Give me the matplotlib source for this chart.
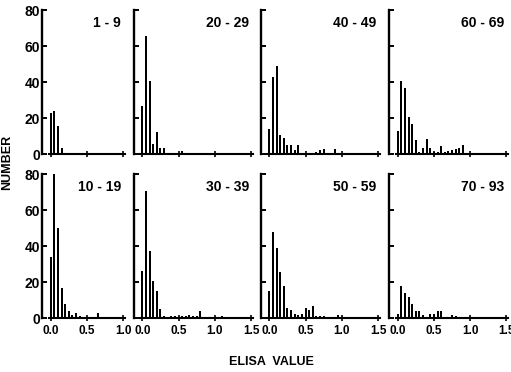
import numpy as np
import matplotlib
matplotlib.use("Agg")
import matplotlib.pyplot as plt

plt.rcParams['font.family'] = ['Liberation Sans', 'DejaVu Sans']
plt.rcParams['font.weight'] = 'bold'

# ELISA value bins (width 0.05)
bin_width = 0.05
elisa_bins = np.round(np.arange(30) * bin_width, 2)

# counts per age group
age_labels = ["1 - 9", "20 - 29", "40 - 49", "60 - 69",
              "10 - 19", "30 - 39", "50 - 59", "70 - 93"]

counts_1_9 = [23, 24, 16, 3.5, 1, 0, 0, 0, 0, 0, 0, 0, 0, 0.7, 0, 1, 0, 0, 0.7, 0]
counts_20_29 = [27, 66, 41, 5.5, 12.5, 3.7, 3.7, 1, 0, 1, 0, 2, 0, 1, 1,
                0, 0, 0, 0, 0, 0, 0, 0, 0, 0, 0, 1, 0, 0, 0]
counts_40_49 = [14, 43, 49, 11, 9, 5, 5, 2.5, 5, 1, 0, 0.5, 0.5, 1.5, 2.5,
                3, 0, 0.5, 3, 0.5, 0.5, 0, 0.5, 0, 1, 0, 0.5, 0, 1, 0]
counts_60_69 = [13, 41, 37, 21, 17, 8, 1.5, 3.5, 8.5, 3.7, 1.5, 1.5, 4.5, 1.5, 2,
                2.5, 3, 3.3, 5.2, 0.5, 0, 0.5, 0, 0, 0, 0.5, 0, 0.5, 0, 0.5]
counts_10_19 = [34, 80, 50, 17, 8, 4, 2, 3, 1.5, 0.5, 0, 0, 0, 3, 0, 0, 1, 0, 0, 0]
counts_30_39 = [26.5, 71, 37.5, 20.5, 15, 5, 1.5, 1, 1.5, 1.5, 1, 1.5, 1.5, 2, 1.5,
                1.5, 4, 0, 0.5, 0, 0, 0.5, 1.5, 0, 0.5, 0, 0, 0, 0, 0]
counts_50_59 = [15, 48, 39, 26, 18, 6, 4.6, 2.4, 2, 2.4, 6, 4.6, 7, 1.5, 1.5,
                1.5, 0.5, 0, 0, 2, 0, 1, 0, 0, 0.5, 0, 0, 0, 0, 0.5]
counts_70_93 = [2.4, 18, 14, 12, 8, 4, 4, 2, 1, 2.5, 2.5, 4, 4, 1, 0.5,
                2, 1.2, 0.5, 1, 0, 0.5, 0.5, 0, 0, 0.5, 0, 0.5, 0, 0, 0]

panel_counts = [counts_1_9, counts_20_29, counts_40_49, counts_60_69,
                counts_10_19, counts_30_39, counts_50_59, counts_70_93]

y_ticks = [0, 20, 40, 60, 80]
x_ticks_first = [0.0, 0.5, 1.0]
x_ticks_other = [0.0, 0.5, 1.0, 1.5]
x_tick_labels_first = ["0.0", "0.5", "1.0"]
x_tick_labels_other = ["0.0", "0.5", "1.0", "1.5"]

W, H = 511, 372
px_per_unit = 72.5
col_zero_px = [50.7, 142.3, 269.3, 397.7]
row_base_px = [154.3, 318.3]
row_height_px = 144.0


def draw_panel(fig, row, col, counts, label):
    xmax = 1.02 if col == 0 else 1.52
    xmin = -0.03
    left = col_zero_px[col] + xmin * px_per_unit
    width = (xmax - xmin) * px_per_unit
    bottom = H - row_base_px[row]
    ax = fig.add_axes([left / W, bottom / H, width / W, row_height_px / H])
    ax.bar(elisa_bins[:len(counts)], counts, width=0.027, color='black', align='center')
    ax.set_xlim(xmin, xmax)
    ax.set_ylim(0, 80)
    for s in ['top', 'right']:
        ax.spines[s].set_visible(False)
    ax.spines['left'].set_position(('outward', 4.5))
    ax.spines['left'].set_linewidth(1.7)
    ax.spines['bottom'].set_linewidth(1.5)
    ax.set_yticks(y_ticks)
    ax.tick_params(axis='y', direction='in', length=3.5, width=1.4, pad=1.5, labelsize=10)
    if col == 0:
        ax.set_xticks(x_ticks_first)
        ax.set_xticklabels(x_tick_labels_first)
    else:
        ax.set_xticks(x_ticks_other)
        ax.set_xticklabels(x_tick_labels_other)
        ax.set_yticklabels([])
    ax.tick_params(axis='x', direction='inout', length=4, width=1.2, pad=2.5, labelsize=8.5)
    if row == 0:
        ax.set_xticklabels([])
    ax.text(xmax - 0.05, 77, label, ha='right', va='top', fontsize=10, fontweight='bold')
    return ax


fig = plt.figure(figsize=(W / 100, H / 100), dpi=100)
for i, (counts, label) in enumerate(zip(panel_counts, age_labels)):
    draw_panel(fig, i // 4, i % 4, counts, label)

fig.text(7 / W, 1 - 162 / H, "NUMBER", rotation=90, ha='center', va='center',
         fontsize=9, fontweight='bold')
fig.text(271 / W, 1 - 362 / H, "ELISA  VALUE", ha='center', va='center',
         fontsize=9, fontweight='bold')

fig.savefig("out.png", dpi=100)
plt.close()
